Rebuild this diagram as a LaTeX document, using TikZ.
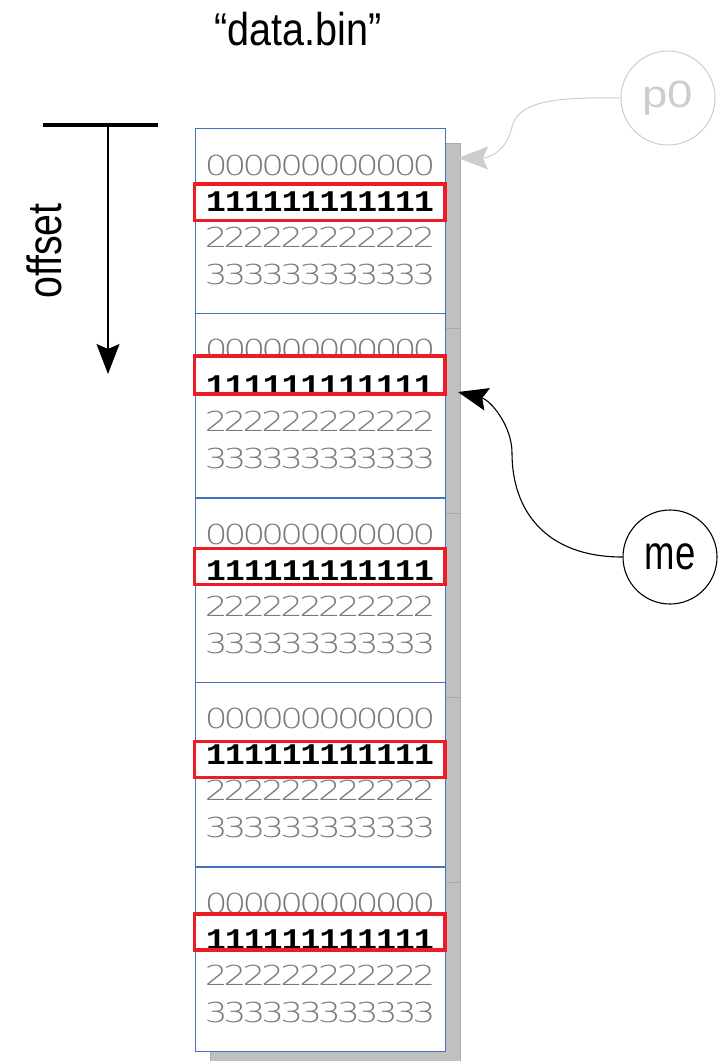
\documentclass[tikz,border=0pt]{standalone}
\usepackage{fontspec}
\usepackage{graphicx}
\setmainfont{Liberation Sans}
\newfontfamily\monodigits{Liberation Mono}
\newfontfamily\thindigits{DejaVu Sans ExtraLight}
\usetikzlibrary{arrows.meta,shadows}

\definecolor{blockblue}{HTML}{4472C4}
\definecolor{markred}{HTML}{ED1C24}
\definecolor{shadowgray}{HTML}{C0C0C0}
\definecolor{shadowedge}{HTML}{ABABAB}
\definecolor{digitgray}{HTML}{7A7A7A}
\definecolor{faint}{HTML}{CDCDCD}

% one record row: twelve equal cells, each glyph widened a little
\newcommand\twelve[1]{#1#1#1#1#1#1#1#1#1#1#1#1}
\newcommand\cellbox[2]{\makebox[18.9pt]{\scalebox{#1}[1]{#2}}}
% condensed sans labels
\newcommand\labeltext[3]{\fontsize{#1}{#1}\selectfont\scalebox{#2}[1]{#3}}

\begin{document}
\begin{tikzpicture}[x=1pt,y=-1pt,
  block/.style={rectangle, draw=blockblue, line width=1.3pt, fill=white,
    minimum width=250pt, minimum height=184.6pt, inner sep=0pt, anchor=north west,
    drop shadow={shadow xshift=15pt, shadow yshift=-15pt, opacity=1,
      fill=shadowgray, draw=shadowedge, line width=0.6pt}},
  plainrow/.style={anchor=base west, inner sep=0pt, text=digitgray,
    font=\thindigits\fontsize{27.5}{27.5}\selectfont},
  keyrow/.style={anchor=base west, inner sep=0pt, text=black,
    font=\monodigits\bfseries\fontsize{30}{30}\selectfont},
  keyback/.style={rectangle, fill=white, inner sep=0pt, minimum width=250.5pt},
  keyframe/.style={draw=markred, line width=3.5pt},
  ring/.style={circle, draw, line width=1pt, minimum size=94pt, inner sep=0pt},
  tip/.style={-{Stealth[length=30pt,width=23pt,inset=5pt]}}
]
\useasboundingbox (0,0) rectangle (719,1061);

% title
\node[anchor=base] (title) at (298,45) {\labeltext{46}{0.86}{“data.bin”}};

% offset axis
\coordinate (barL) at (43,125);
\coordinate (barR) at (158,125);
\coordinate (offTop) at (108,125);
\coordinate (offTip) at (108,374);
\draw[line width=3.5pt] (barL) -- (barR);
\draw[line width=1.3pt, tip] (offTop) -- (offTip);
\node[rotate=90] (offlabel) at (44,251) {\labeltext{48}{0.82}{offset}};

% the five records of the file
\foreach \i/\t/\kc/\kh in {1/128/202.25/36.5, 2/312.6/375/38, 3/497.2/566.5/36,
                           4/681.8/759.5/36, 5/866.4/932/36} {
  \node[block] (b\i) at (194.5,\t) {};
  \node[plainrow] (z\i) at (206.5,\t+47) {\twelve{\cellbox{1.3}{0}}};
  \node[keyback, minimum height=\kh pt] (k\i) at (319.75,\kc) {};
  \node[keyrow] (o\i) at (206.5,\t+83) {\twelve{\cellbox{1.1}{1}}};
  \draw[keyframe] (k\i.north west) rectangle (k\i.south east);
  \node[plainrow] (w\i) at (206.5,\t+119) {\twelve{\cellbox{1.3}{2}}};
  \node[plainrow] (h\i) at (206.5,\t+156) {\twelve{\cellbox{1.3}{3}}};
}

% pointers
\node[ring, draw=faint, text=faint] (p0) at (668,98) {\labeltext{38}{1.2}{p0}};
\node[ring, line width=1.1pt] (me) at (670,557) {\labeltext{48}{0.76}{me}};

\coordinate (p0tip) at (458,158);
\coordinate (metip) at (458,392);
\draw[faint, line width=1pt, tip] (p0.west)
  .. controls (560,97) and (518,100) .. (512,127)
  .. controls (507,150) and (490,158) .. (p0tip);
\draw[line width=1.1pt, tip] (me.west)
  .. controls (545,557) and (512,510) .. (512,453)
  .. controls (512,425) and (490,400) .. (metip);
\end{tikzpicture}
\end{document}
